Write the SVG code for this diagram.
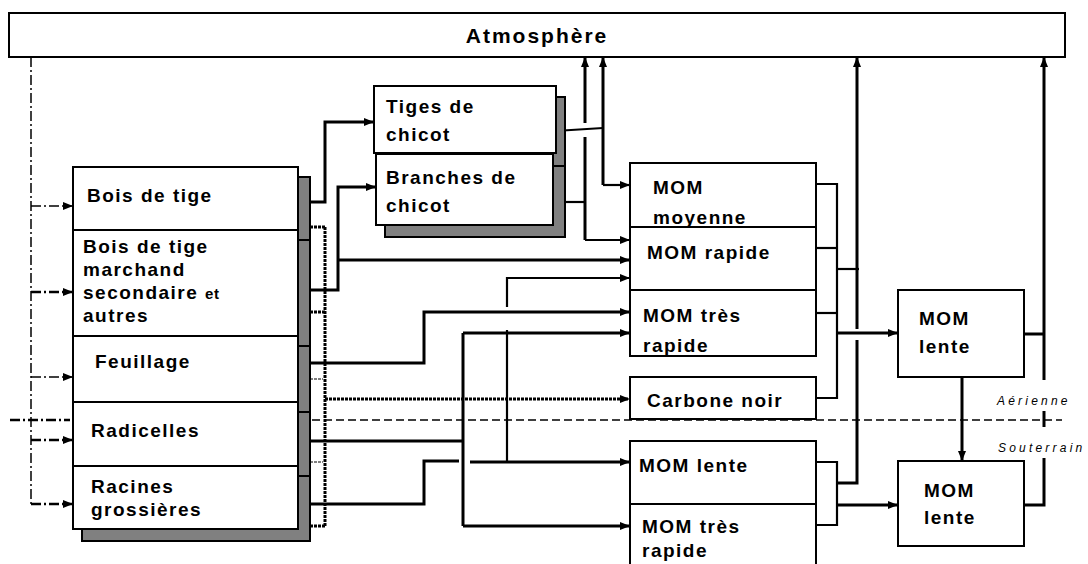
<svg xmlns="http://www.w3.org/2000/svg" width="1088" height="564" viewBox="0 0 1088 564">
<defs>
<marker id="ah" viewBox="0 0 10 8" refX="10" refY="4" markerWidth="10" markerHeight="8" markerUnits="userSpaceOnUse" orient="auto">
<path d="M0,0 L10,4 L0,8 Z" fill="#000"/>
</marker>
</defs>
<style>
.box{fill:#fff;stroke:#000;stroke-width:2}
.sh{fill:#808080;stroke:#000;stroke-width:2}
.t{font-family:"Liberation Sans",Arial,Helvetica,sans-serif;font-weight:bold;font-size:19px;letter-spacing:1.5px;fill:#000}
.lab{font-family:"Liberation Sans",Arial,Helvetica,sans-serif;font-style:italic;font-size:12px;letter-spacing:3.2px;fill:#000}
.c{fill:none;stroke:#000;stroke-width:2.2}
.ck{fill:none;stroke:#000;stroke-width:3}
.dot{fill:none;stroke:#000;stroke-width:3;stroke-dasharray:3 1}
.dotl{fill:none;stroke:#000;stroke-width:1.2;stroke-dasharray:3 1}
.dd{fill:none;stroke:#000;stroke-width:1.5;stroke-dasharray:10 3 2 3}
.ddk{fill:none;stroke:#000;stroke-width:2.5;stroke-dasharray:10 3 2 3}
.dash{fill:none;stroke:#000;stroke-width:1.5;stroke-dasharray:8 4}
</style>

<g id="divider">
<path class="ddk" d="M10,420 H70"/>
<path class="dash" d="M312,420 H1062"/>
</g>

<g id="atmosphere">
<rect class="box" x="9" y="13" width="1056" height="44"/>
<text class="t" x="537" y="43" text-anchor="middle" style="font-size:21px;letter-spacing:2px">Atmosphère</text>
</g>

<g id="connectors">
<path class="dd" d="M31,57 V504"/>
<path class="dd" d="M31,206 H73" marker-end="url(#ah)"/>
<path class="ddk" d="M31,292 H73" marker-end="url(#ah)"/>
<path class="dd" d="M31,377 H73" marker-end="url(#ah)"/>
<path class="ddk" d="M31,440 H73" marker-end="url(#ah)"/>
<path class="ddk" d="M31,504 H73" marker-end="url(#ah)"/>

<path class="dot" d="M325,227 V526"/>
<path class="dot" d="M302,227 H325"/>
<path class="dot" d="M302,312 H325"/>
<path class="dot" d="M302,526 H325"/>
<path class="dotl" d="M302,379 H323"/>
<path class="dotl" d="M302,462 H323"/>
<path class="dot" d="M325,399 H630" marker-end="url(#ah)"/>

<path class="ck" d="M302,202 H325 V122 H374" marker-end="url(#ah)"/>
<path class="ck" d="M302,290 H338 V187 H376" marker-end="url(#ah)"/>
<path class="ck" d="M338,260 H630" marker-end="url(#ah)"/>
<path class="ck" d="M302,363 H424 V312 H630" marker-end="url(#ah)"/>
<path class="ck" d="M302,441 H463"/>
<path class="ck" d="M463,333 V526"/>
<path class="ck" d="M463,333 H630" marker-end="url(#ah)"/>
<path class="ck" d="M463,526 H630" marker-end="url(#ah)"/>
<path class="ck" d="M302,504 H424 V461 H459"/>
<path class="ck" d="M470,462 H630" marker-end="url(#ah)"/>
<path class="c" d="M507,462 V330"/>
<path class="c" d="M507,307 V278 H630" marker-end="url(#ah)"/>

<path class="c" d="M555,131 L603,128"/>
<path class="ck" d="M603,185 V57" marker-end="url(#ah)"/>
<path class="c" d="M603,185 H630" marker-end="url(#ah)"/>
<path class="c" d="M553,202 H585"/>
<path class="ck" d="M585,123 V57" marker-end="url(#ah)"/>
<path class="ck" d="M585,137 V240"/>
<path class="c" d="M585,240 H630" marker-end="url(#ah)"/>

<path class="c" d="M816,184 H837 V398 H816"/>
<path class="c" d="M816,248 H837"/>
<path class="c" d="M816,313 H837"/>
<path class="c" d="M837,269 H859"/>
<path class="ck" d="M837,333 H898" marker-end="url(#ah)"/>
<path class="ck" d="M857,329 V57" marker-end="url(#ah)"/>
<path class="ck" d="M857,340 V483 H837"/>
<path class="c" d="M816,462 H837 V525 H816"/>
<path class="ck" d="M837,505 H898" marker-end="url(#ah)"/>

<path class="ck" d="M962,377 V461" marker-end="url(#ah)"/>
<path class="ck" d="M1024,334 H1044"/>
<path class="ck" d="M1044,380 V57" marker-end="url(#ah)"/>
<path class="ck" d="M1044,411 V427"/>
<path class="ck" d="M1044,458 V505 H1024"/>
</g>

<g id="biomasse">
<rect class="sh" x="82" y="177" width="228" height="63"/>
<rect class="sh" x="82" y="240" width="228" height="106"/>
<rect class="sh" x="82" y="346" width="228" height="66"/>
<rect class="sh" x="82" y="412" width="228" height="64"/>
<rect class="sh" x="82" y="476" width="228" height="65"/>
<rect class="box" x="73" y="167" width="225" height="362"/>
<path fill="none" stroke="#000" stroke-width="2" d="M73,230 H298 M73,336 H298 M73,402 H298 M73,466 H298"/>
</g>
<g id="bois-de-tige"><text class="t" x="87" y="202">Bois de tige</text></g>
<g id="bois-marchand"><text class="t" x="83" y="253">Bois de tige</text><text class="t" x="83" y="276">marchand</text><text class="t" x="83" y="299">secondaire <tspan style="font-size:15px;letter-spacing:0.5px">et</tspan></text><text class="t" x="83" y="322">autres</text></g>
<g id="feuillage"><text class="t" x="95" y="368">Feuillage</text></g>
<g id="radicelles"><text class="t" x="91" y="437">Radicelles</text></g>
<g id="racines"><text class="t" x="91" y="493">Racines</text><text class="t" x="91" y="516">grossières</text></g>

<g id="tiges-chicot">
<rect class="sh" x="385" y="97" width="180" height="140"/>
<path fill="none" stroke="#000" stroke-width="2" d="M553,166 H565"/>
<rect class="box" x="374" y="86" width="182" height="67"/>
<text class="t" x="386" y="113">Tiges de</text>
<text class="t" x="386" y="141">chicot</text>
</g>
<g id="branches-chicot">
<rect class="box" x="376" y="154" width="177" height="71"/>
<text class="t" x="386" y="184">Branches de</text>
<text class="t" x="386" y="212">chicot</text>
</g>

<g id="mom-moyenne">
<rect class="box" x="630" y="163" width="186" height="64"/>
<text class="t" x="653" y="194">MOM</text>
<text class="t" x="653" y="224">moyenne</text>
</g>
<g id="mom-rapide">
<rect class="box" x="630" y="227" width="186" height="63"/>
<text class="t" x="647" y="259">MOM rapide</text>
</g>
<g id="mom-tres-rapide-a">
<rect class="box" x="630" y="290" width="186" height="66"/>
<text class="t" x="643" y="322">MOM très</text>
<text class="t" x="643" y="352">rapide</text>
</g>
<g id="carbone-noir">
<rect class="box" x="630" y="377" width="186" height="42"/>
<text class="t" x="647" y="407">Carbone noir</text>
</g>
<g id="mom-lente-s">
<rect class="box" x="630" y="441" width="186" height="63"/>
<text class="t" x="639" y="472">MOM lente</text>
</g>
<g id="mom-tres-rapide-s">
<rect class="box" x="630" y="504" width="186" height="75"/>
<text class="t" x="642" y="533">MOM très</text>
<text class="t" x="642" y="557">rapide</text>
</g>

<g id="mom-lente-a">
<rect class="box" x="898" y="290" width="126" height="87"/>
<text class="t" x="919" y="325">MOM</text>
<text class="t" x="919" y="353">lente</text>
</g>
<g id="mom-lente-b">
<rect class="box" x="898" y="461" width="126" height="85"/>
<text class="t" x="924" y="497">MOM</text>
<text class="t" x="924" y="524">lente</text>
</g>

<g id="labels">
<text class="lab" x="997" y="405">Aérienne</text>
<text class="lab" x="998" y="452">Souterrain</text>
</g>
</svg>
